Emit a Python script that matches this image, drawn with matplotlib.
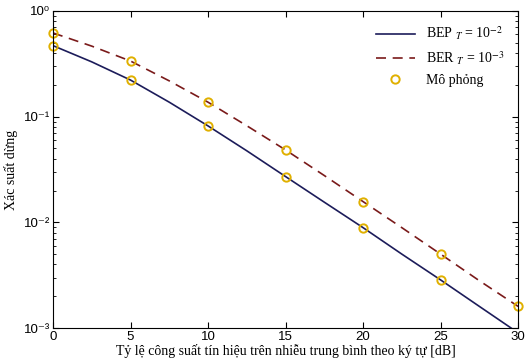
import numpy as np
import matplotlib
matplotlib.use('Agg')
import matplotlib.pyplot as plt
from matplotlib.ticker import FixedLocator, FuncFormatter

# data
snr_db = [0, 2.5, 5, 7.5, 10, 12.5, 15, 17.5, 20, 22.5, 25, 27.5, 30]
bep = [0.47, 0.33, 0.222, 0.137, 0.0817, 0.0475, 0.0271, 0.0155, 0.0089, 0.0050, 0.00285, 0.0016, 0.0009]
ber = [0.62, 0.465, 0.336, 0.218, 0.137, 0.082, 0.0484, 0.0277, 0.0157, 0.0089, 0.0050, 0.0028, 0.0016]

sim_db = [0, 5, 10, 15, 20, 25, 30]
sim_bep = [0.47, 0.222, 0.0817, 0.0271, 0.0089, 0.00285]
sim_ber = [0.62, 0.336, 0.137, 0.0484, 0.0157, 0.0050, 0.0016]

plt.rcParams['mathtext.fontset'] = 'stix'
plt.rcParams['axes.unicode_minus'] = False
serif = 'Liberation Serif'
sans = 'Liberation Sans'

sup = str.maketrans('-0123456789', '⁻⁰¹²³⁴⁵⁶⁷⁸⁹')

fig = plt.figure(figsize=(5.25, 3.63), dpi=100)
ax = fig.add_axes([0.101, 0.0964, 0.886, 0.8733])

l1, = ax.semilogy(snr_db, bep, '-', color='#1c1c5a', lw=1.2)
l2, = ax.semilogy(snr_db, ber, '--', color='#7a1a1a', lw=1.2, dashes=(6, 4))
ax.semilogy(sim_db[:-1], sim_bep, 'o', mfc='none', mec='#e0b000', ms=6, mew=1.4, clip_on=False)
m, = ax.semilogy(sim_db, sim_ber, 'o', mfc='none', mec='#e0b000', ms=6, mew=1.4, clip_on=False)

ax.set_xlim(0, 30)
ax.set_ylim(1e-3, 1)
ax.set_xticks([0, 5, 10, 15, 20, 25, 30])
ax.yaxis.set_major_locator(FixedLocator([1e-3, 1e-2, 1e-1, 1]))
ax.yaxis.set_major_formatter(FuncFormatter(lambda v, p: '10' + str(int(round(np.log10(v)))).translate(sup)))
ax.tick_params(which='both', direction='in', top=True, right=True, labelsize=9.5, pad=2)
ax.tick_params(which='major', length=4)
ax.tick_params(which='minor', length=2)
for lab in ax.get_xticklabels() + ax.get_yticklabels():
    lab.set_fontfamily([sans, 'DejaVu Sans'])

ax.set_xlabel('Tỷ lệ công suất tín hiệu trên nhiễu trung bình theo ký tự [dB]', family=serif, fontsize=10, labelpad=1)
ax.set_ylabel('Xác suất dừng', family=serif, fontsize=10, labelpad=4)

leg = ax.legend([l1, l2, m],
                ['BEP $_{T}$ = 10$^{-2}$', 'BER $_{T}$ = 10$^{-3}$', 'Mô phỏng'],
                loc='upper right', frameon=False, prop={'family': serif, 'size': 10},
                handlelength=2.8, borderaxespad=0.6, labelspacing=0.5)

fig.savefig('out.png', dpi=100)
